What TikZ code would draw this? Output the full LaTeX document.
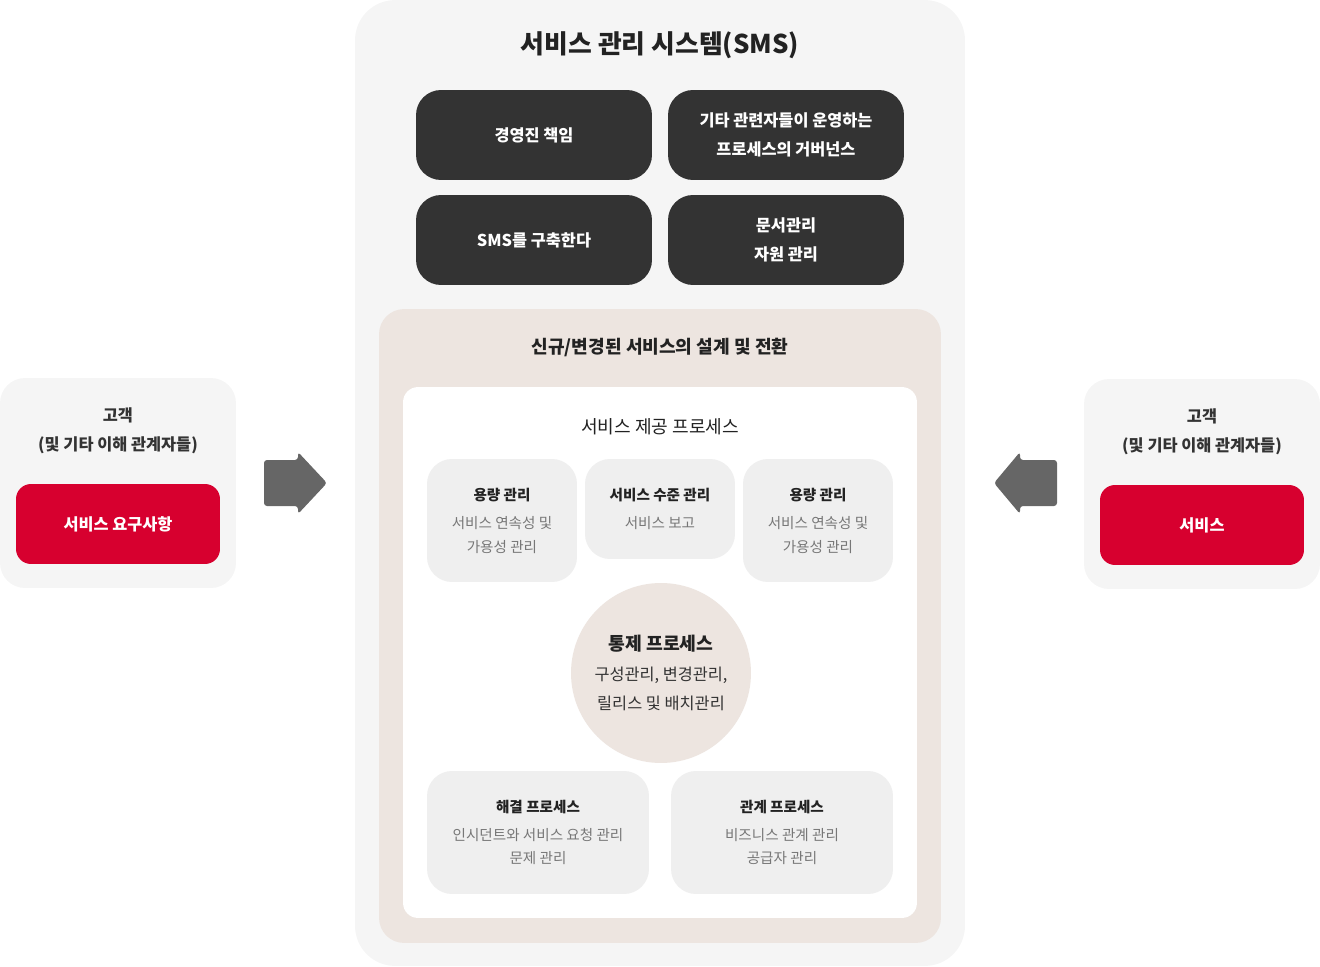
\documentclass[tikz,border=0pt]{standalone}
\usepackage{fontspec}
\setmainfont{Noto Sans CJK KR}
\definecolor{panelgray}{HTML}{F5F5F5}
\definecolor{darkbox}{HTML}{333333}
\definecolor{beige}{HTML}{EDE5E0}
\definecolor{lightbox}{HTML}{EFEFEF}
\definecolor{redbox}{HTML}{D7002F}
\definecolor{arrowgray}{HTML}{666666}
\definecolor{txtdark}{HTML}{222222}
\definecolor{txtgray}{HTML}{777777}
\tikzset{
  panel/.style={fill=panelgray, rounded corners=0.5cm, inner sep=0pt},
  darkbtn/.style={fill=darkbox, text=white, rounded corners=0.5cm, align=center,
    minimum width=4.72cm, minimum height=1.8cm, font=\fontsize{9.3}{16.4}\selectfont\bfseries},
  procbox/.style={fill=lightbox, rounded corners=0.5cm, align=center, text=txtgray,
    font=\fontsize{8.3}{13.6}\selectfont},
  redbtn/.style={fill=redbox, text=white, rounded corners=0.3cm,
    minimum width=4.08cm, minimum height=1.6cm, font=\fontsize{9.3}{12}\selectfont\bfseries},
  blockarrow/.style={fill=arrowgray, rounded corners=0.06cm},
}
\newcommand{\ptitle}[1]{{\color{txtdark}\bfseries #1}\\[2.3pt]}
\begin{document}
\begin{tikzpicture}[x=0.02cm, y=-0.02cm]
  \useasboundingbox (0,0) rectangle (1320,967);
  % 가운데 SMS 패널
  \node[panel, rounded corners=0.8cm, minimum width=12.2cm, minimum height=19.32cm] (sms) at (660,483) {};
  \node[font=\fontsize{14.7}{18}\selectfont\bfseries, text=txtdark] (smstitle) at (660,45) {서비스 관리 시스템(SMS)};
  \node[darkbtn] (lead) at (534,135) {경영진 책임};
  \node[darkbtn] (gov) at (786,135) {기타 관련자들이 운영하는\\프로세스의 거버넌스};
  \node[darkbtn] (build) at (534,240) {SMS를 구축한다};
  \node[darkbtn] (docs) at (786,240) {문서관리\\자원 관리};
  % 설계 및 전환
  \node[fill=beige, rounded corners=0.5cm, minimum width=11.24cm, minimum height=12.68cm] (design) at (660,626) {};
  \node[font=\fontsize{10.3}{12}\selectfont\bfseries, text=txtdark] (designtitle) at (660,347) {신규/변경된 서비스의 설계 및 전환};
  \node[fill=white, rounded corners=0.3cm, minimum width=10.28cm, minimum height=10.62cm] (delivery) at (660,652.5) {};
  \node[font=\fontsize{10.3}{12}\selectfont, text=txtdark] (deliverytitle) at (660,427) {서비스 제공 프로세스};
  \node[procbox, minimum width=3cm, minimum height=2.46cm] (cap1) at (502,520.5)
    {\ptitle{용량 관리}서비스 연속성 및\\가용성 관리};
  \node[procbox, minimum width=3cm, minimum height=2cm] (level) at (660,509)
    {\ptitle{서비스 수준 관리}서비스 보고};
  \node[procbox, minimum width=3cm, minimum height=2.46cm] (cap2) at (818,520.5)
    {\ptitle{용량 관리}서비스 연속성 및\\가용성 관리};
  % 통제 프로세스
  \node[circle, fill=beige, minimum size=3.6cm, inner sep=0pt, align=center, text=darkbox,
    font=\fontsize{9.3}{16.4}\selectfont] (control) at (661,673)
    {{\fontsize{10.4}{16.4}\selectfont\bfseries\color{txtdark}통제 프로세스}\\[0.4pt]구성관리, 변경관리,\\릴리스 및 배치관리};
  \node[procbox, minimum width=4.44cm, minimum height=2.46cm] (resolve) at (538,832.5)
    {\ptitle{해결 프로세스}인시던트와 서비스 요청 관리\\문제 관리};
  \node[procbox, minimum width=4.44cm, minimum height=2.46cm] (relation) at (782,832.5)
    {\ptitle{관계 프로세스}비즈니스 관계 관리\\공급자 관리};
  % 고객 (왼쪽, 오른쪽)
  \node[panel, minimum width=4.72cm, minimum height=4.2cm] (custL) at (118,483) {};
  \node[align=center, text=darkbox, font=\fontsize{9.3}{16.4}\selectfont\bfseries] (custLtext) at (118,430.5) {고객\\(및 기타 이해 관계자들)};
  \node[redbtn] (req) at (118,524) {서비스 요구사항};
  \node[panel, minimum width=4.72cm, minimum height=4.2cm] (custR) at (1202,484) {};
  \node[align=center, text=darkbox, font=\fontsize{9.3}{16.4}\selectfont\bfseries] (custRtext) at (1202,431.5) {고객\\(및 기타 이해 관계자들)};
  \node[redbtn] (svc) at (1202,525) {서비스};
  % 화살표
  \fill[blockarrow] (264,460) -- (298,460) -- (298,452) -- (327,483) -- (298,514) -- (298,506) -- (264,506) -- cycle;
  \fill[blockarrow] (1057,460) -- (1020,460) -- (1020,452) -- (994,483) -- (1020,514) -- (1020,506) -- (1057,506) -- cycle;
\end{tikzpicture}
\end{document}
